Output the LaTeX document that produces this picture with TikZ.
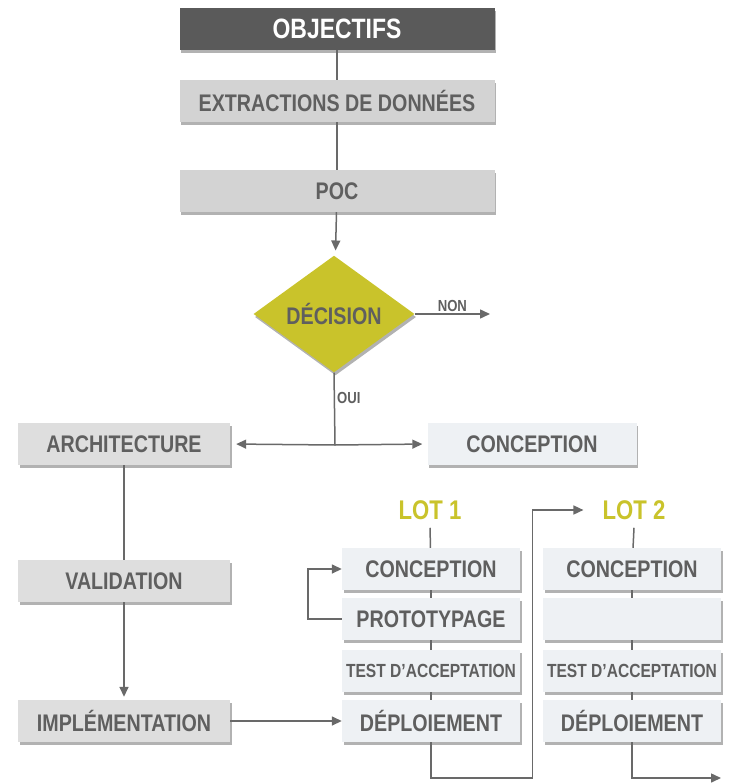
\documentclass[tikz,border=0pt]{standalone}
\usepackage{fontspec}
\setmainfont{Liberation Sans}[FakeStretch=0.82]
\usetikzlibrary{shapes.geometric, shadows, arrows.meta, positioning}
\definecolor{ink}{RGB}{95, 95, 95}
\definecolor{wire}{RGB}{105, 105, 105}
\definecolor{dark}{RGB}{90, 90, 90}
\definecolor{stone}{RGB}{211, 211, 211}
\definecolor{pale}{RGB}{222, 222, 222}
\definecolor{mist}{RGB}{238, 241, 244}
\definecolor{olive}{RGB}{201, 195, 43}

\tikzset{
  box/.style={fill=stone, minimum height=42pt, inner sep=0pt, text=ink,
    font=\bfseries\fontsize{24}{26}\selectfont,
    drop shadow={shadow xshift=1.5pt, shadow yshift=-3pt, fill=black, opacity=0.3}},
  lotbox/.style={box, fill=mist, minimum width=178pt},
  smallbox/.style={lotbox, font=\bfseries\fontsize{19}{21}\selectfont},
  lotname/.style={text=olive, inner sep=0pt, font=\bfseries\fontsize{27}{29}\selectfont},
  tag/.style={text=ink, inner sep=2pt, font=\bfseries\fontsize{16}{18}\selectfont},
  link/.style={draw=wire, line width=1.5pt},
  arrow/.style={link, -{Triangle[length=10pt, width=9pt]}}
}

\begin{document}
\begin{tikzpicture}[x=1pt, y=-1pt]
  \useasboundingbox (0, 0) rectangle (731, 783);

  % main column
  \node[box, fill=dark, text=white, minimum width=315pt,
    font=\bfseries\fontsize{28}{30}\selectfont] (obj) at (337, 29) {OBJECTIFS};
  \node[box, minimum width=315pt] (extr) at (337, 101) {EXTRACTIONS DE DONNÉES};
  \node[box, minimum width=315pt] (poc) at (337, 191) {POC};
  \node[diamond, fill=olive, minimum width=161pt, minimum height=113pt, inner sep=0pt,
    text=ink, font=\bfseries\fontsize{24}{26}\selectfont,
    drop shadow={shadow xshift=1.5pt, shadow yshift=-3pt, fill=black, opacity=0.3}]
    (dec) at (334, 314) {DÉCISION};
  \coordinate (non) at (490, 314);
  \coordinate (fork) at (335, 445);

  \draw[link] (obj) -- (extr);
  \draw[link] (extr) -- (poc);
  \draw[arrow, shorten >=6pt] (poc) -- (dec);
  \draw[arrow] (dec.east) -- node[tag, above] {NON} (non);
  \draw[link] (dec.south) -- node[tag, right, pos=0.35] {OUI} (fork);

  % left branch
  \node[box, fill=pale, minimum width=212pt] (arch) at (124, 444) {ARCHITECTURE};
  \node[box, fill=mist, minimum width=209pt] (conc) at (532, 444) {CONCEPTION};
  \node[box, fill=pale, minimum width=212pt] (val) at (124, 581) {VALIDATION};
  \node[box, fill=pale, minimum width=212pt] (imp) at (124, 721) {IMPLÉMENTATION};

  \draw[arrow, shorten >=6pt] (fork) -- (arch.east);
  \draw[arrow, shorten >=5pt] (fork) -- (conc.west);
  \draw[link] (arch) -- (val);
  \draw[arrow, shorten >=3pt] (val) -- (imp);

  % lots
  \node[lotname] (lot1) at (430, 510) {LOT 1};
  \node[lotname] (lot2) at (634, 510) {LOT 2};
  \node[lotbox] (c1) at (431, 569) {CONCEPTION};
  \node[lotbox] (p1) at (431, 619) {PROTOTYPAGE};
  \node[smallbox] (t1) at (431, 671) {TEST D’ACCEPTATION};
  \node[lotbox] (d1) at (431, 721) {DÉPLOIEMENT};
  \node[lotbox] (c2) at (632, 569) {CONCEPTION};
  \node[lotbox] (p2) at (632, 619) {};
  \node[smallbox] (t2) at (632, 671) {TEST D’ACCEPTATION};
  \node[lotbox] (d2) at (632, 721) {DÉPLOIEMENT};
  \coordinate (end2) at (721, 778);

  \draw[link] ([yshift=-8pt]lot1.south) -- (c1);
  \draw[link] ([yshift=-8pt]lot2.south) -- (c2);
  \foreach \a/\b in {c1/p1, p1/t1, t1/d1, c2/p2, p2/t2, t2/d2}
    \draw[link] (\a) -- (\b);

  \draw[arrow] (p1.west) -- ++(-34, 0) |- (c1.west);
  \draw[arrow] (imp.east) -- (d1.west);
  \draw[arrow] (d1.south) -- ++(0, 36) -| ([xshift=-70pt]lot2.west)
    -- ([xshift=-19pt]lot2.west);
  \draw[arrow] (d2.south) |- (end2);
\end{tikzpicture}
\end{document}
